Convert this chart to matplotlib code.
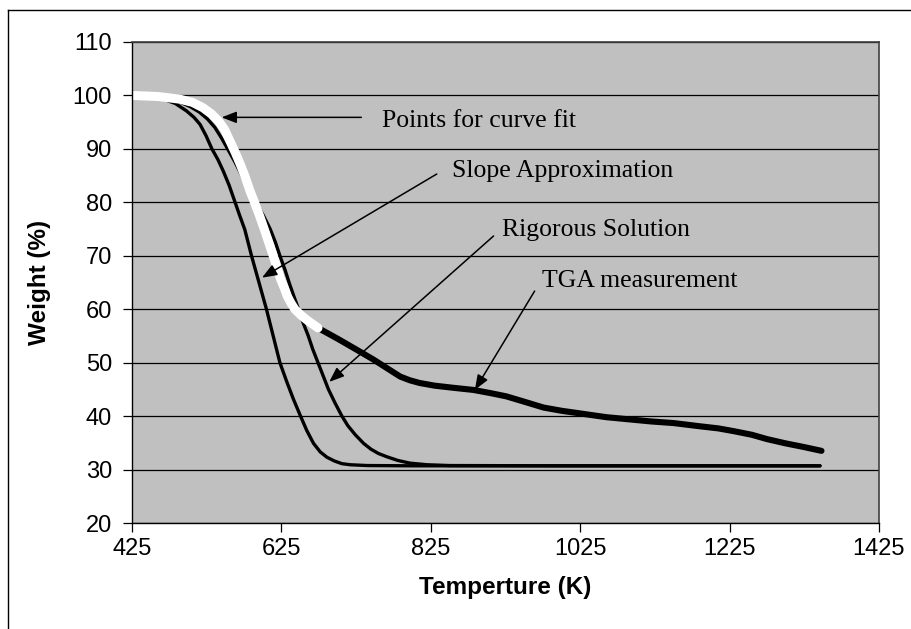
# TGA weight loss vs temperature - curve comparison chart

import matplotlib
matplotlib.use("Agg")
import matplotlib.pyplot as plt
from matplotlib.lines import Line2D

# slope approximation curve
slope_t = [425, 445, 467, 483, 498, 508, 516, 524, 532, 540, 547, 555, 563,
           569, 576, 585, 595, 605, 614, 623, 632, 641, 650, 659, 668, 677,
           686, 696, 706, 717, 740, 800, 1000, 1346]
slope_w = [100, 99.8, 99.3, 98.5, 97.1, 95.9, 94.6, 92.5, 90.0, 88.0, 85.9,
           83.2, 80.0, 77.6, 74.9, 70.0, 65.0, 60.0, 55.0, 50.0, 46.5, 43.2,
           40.2, 37.3, 34.9, 33.3, 32.3, 31.6, 31.1, 30.9, 30.75, 30.7, 30.7,
           30.7]

# rigorous solution curve
rig_t = [425, 455, 475, 490, 503, 515, 526, 536, 545, 553, 563, 572, 582,
         591, 601, 610, 617, 623, 630, 636, 642, 648, 654, 661, 667, 674,
         681, 688, 697, 706, 714, 724, 735, 745, 755, 766, 781, 797, 820,
         850, 1000, 1346]
rig_w = [100, 99.7, 99.3, 98.7, 97.9, 96.9, 95.6, 94.0, 92.0, 90.0, 87.5,
         85.0, 82.5, 80.0, 77.5, 75.0, 72.5, 70.0, 67.3, 64.7, 62.3, 60.0,
         57.5, 55.0, 52.5, 50.0, 47.5, 45.0, 42.4, 40.0, 38.2, 36.5, 34.9,
         33.8, 33.0, 32.4, 31.7, 31.2, 30.9, 30.75, 30.7, 30.7]

# TGA measurement
tga_t = [425, 460, 489, 506, 520, 531, 541, 549, 556, 563, 570, 577, 583,
         589, 596, 602, 608, 614, 619, 624, 629, 633, 638, 643, 651, 659,
         667, 674, 700, 726, 748, 766, 784, 797, 810, 830, 855, 882, 905,
         926, 950, 976, 1000, 1030, 1060, 1090, 1120, 1150, 1185, 1210,
         1230, 1255, 1275, 1300, 1325, 1348]
tga_w = [100, 99.8, 99.3, 98.7, 97.7, 96.6, 95.2, 93.6, 91.5, 89.4, 87.1,
         84.6, 82.1, 80.0, 77.4, 75.0, 72.5, 70.0, 67.8, 65.6, 63.9, 62.4,
         61.1, 60.0, 58.9, 58.0, 57.2, 56.5, 54.5, 52.4, 50.6, 49.0, 47.4,
         46.7, 46.2, 45.7, 45.3, 44.9, 44.3, 43.7, 42.7, 41.6, 41.0, 40.4,
         39.8, 39.4, 39.0, 38.7, 38.1, 37.7, 37.2, 36.5, 35.7, 34.9, 34.2,
         33.5]

# part of TGA used for the curve fit (white overlay)
fit_t = tga_t[:28]
fit_w = tga_w[:28]

# annotations: label, text position, arrow tail, arrow tip
labels = ["Points for curve fit", "Slope Approximation",
          "Rigorous Solution", "TGA measurement"]
text_xy = [(760, 95.3), (853, 85.9), (920, 74.9), (974, 65.2)]
tail_xy = [(732, 95.9), (833, 85.3), (909, 73.7), (964, 63.4)]
tip_xy = [(545, 95.9), (599, 65.9), (689, 46.4), (884, 44.9)]

x_ticks = [425, 625, 825, 1025, 1225, 1425]
y_ticks = [20, 30, 40, 50, 60, 70, 80, 90, 100, 110]

fig = plt.figure(figsize=(9.12, 6.29), dpi=100)
ax = fig.add_axes([132 / 912, 1 - 523 / 629, 747 / 912, 481 / 629])

ax.set_facecolor("#c0c0c0")
ax.set_xlim(425, 1425)
ax.set_ylim(20, 110)
ax.set_xticks(x_ticks)
ax.set_yticks(y_ticks)

ax.yaxis.grid(True, color="#000000", linewidth=0.9)
ax.set_axisbelow(True)

for side in ["top", "right"]:
    ax.spines[side].set_color("#404040")
    ax.spines[side].set_linewidth(1.2)
for side in ["left", "bottom"]:
    ax.spines[side].set_color("#000000")
    ax.spines[side].set_linewidth(1.0)

ax.tick_params(direction="out", length=6.5, width=0.9, color="#000000",
               labelsize=17)
ax.tick_params(axis="y", pad=8)
ax.tick_params(axis="x", pad=4)
for lab in ax.get_xticklabels() + ax.get_yticklabels():
    lab.set_fontfamily("Liberation Sans")

ax.plot(slope_t, slope_w, color="black", linewidth=2.4,
        solid_capstyle="round", solid_joinstyle="round")
ax.plot(rig_t, rig_w, color="black", linewidth=2.4,
        solid_capstyle="round", solid_joinstyle="round")
ax.plot(tga_t, tga_w, color="black", linewidth=4.4,
        solid_capstyle="round", solid_joinstyle="round")
ax.plot(fit_t, fit_w, color="white", linewidth=6.5,
        solid_capstyle="round", solid_joinstyle="round")

for lab, txy, tail, tip in zip(labels, text_xy, tail_xy, tip_xy):
    ax.annotate("", xy=tip, xytext=tail,
                arrowprops=dict(arrowstyle="-|>,head_length=0.9,head_width=0.35",
                                color="black", linewidth=1.1,
                                shrinkA=0, shrinkB=0))
    ax.text(txy[0], txy[1], lab, fontsize=18.5, family="Liberation Serif",
            ha="left", va="center")

ax.set_xlabel("Temperture (K)", fontsize=17.5, fontweight="bold",
              family="Liberation Sans", labelpad=12)
ax.set_ylabel("Weight (%)", fontsize=17.5, fontweight="bold",
              family="Liberation Sans", labelpad=15.5)

# outer chart border
fig.add_artist(Line2D([8 / 912, 1.0], [1 - 10 / 629, 1 - 10 / 629],
                      transform=fig.transFigure, color="black", linewidth=1.0))
fig.add_artist(Line2D([8 / 912, 8 / 912], [0.0, 1 - 10 / 629],
                      transform=fig.transFigure, color="black", linewidth=1.0))

plt.savefig("out.png", dpi=100)
plt.close()
